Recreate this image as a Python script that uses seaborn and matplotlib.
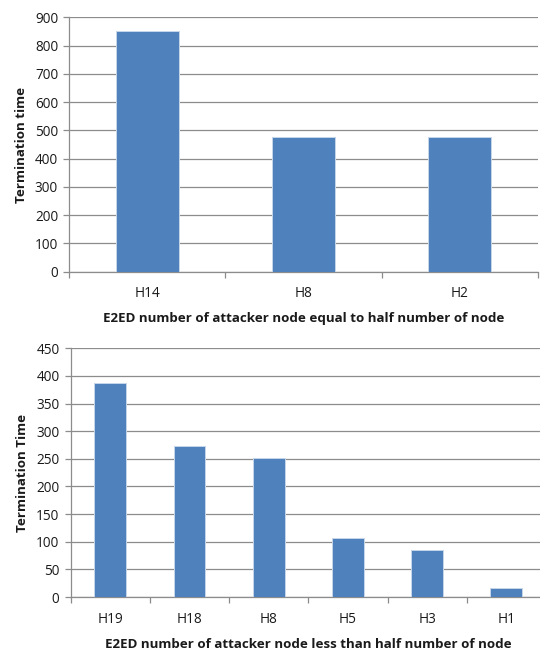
import matplotlib
matplotlib.use("Agg")
import matplotlib.pyplot as plt
import seaborn as sns
import pandas as pd
import numpy as np
from matplotlib.ticker import FixedLocator

# Termination time per attacker node
equal_nodes = ["H14", "H8", "H2"]
equal_times = [850, 478, 478]

less_nodes = ["H19", "H18", "H8", "H5", "H3", "H1"]
less_times = [387, 274, 251, 106, 85, 17]

sns.set_style("white")
plt.rcParams["font.family"] = ["Open Sans", "DejaVu Sans"]

BAR = "#4F81BD"
GRID = "#8c8c8c"
TXT = "#1a1a1a"

fig = plt.figure(figsize=(5.4, 6.51), dpi=100)
ax1 = fig.add_axes([0.1283, 0.5826, 0.8673, 0.3908])
ax2 = fig.add_axes([0.1309, 0.0829, 0.8801, 0.3821])


def style(ax, cats, vals, ymax, ystep, xlabel, ylabel):
    df = pd.DataFrame({"node": cats, "time": vals})
    sns.barplot(data=df, x="node", y="time", ax=ax, color=BAR, width=0.4,
                saturation=1, edgecolor="#c5d5ea", linewidth=0.7, zorder=3)
    n = len(cats)
    ax.set_xlim(-0.5, n - 0.5)
    ax.set_ylim(0, ymax)
    ax.set_yticks(np.arange(0, ymax + 1, ystep))
    ax.yaxis.grid(True, color=GRID, linewidth=0.9, zorder=0)
    ax.set_axisbelow(True)
    for s in ["top", "right"]:
        ax.spines[s].set_visible(False)
    for s in ["left", "bottom"]:
        ax.spines[s].set_color(GRID)
        ax.spines[s].set_linewidth(0.9)
    ax.xaxis.set_minor_locator(FixedLocator(np.arange(-0.5, n, 1.0)))
    ax.tick_params(axis="x", which="major", length=0, pad=10.5,
                   labelsize=9.8, labelcolor=TXT)
    ax.tick_params(axis="x", which="minor", length=4, width=0.9,
                   color=GRID, direction="out", bottom=True)
    ax.tick_params(axis="y", which="major", length=4, width=0.9,
                   color=GRID, direction="out", left=True, pad=4,
                   labelsize=9.8, labelcolor=TXT)
    ax.set_xlabel(xlabel, fontsize=9.6, fontweight="bold", color=TXT,
                  labelpad=8)
    ax.set_ylabel(ylabel, fontsize=9.6, fontweight="bold", color=TXT,
                  labelpad=5)


style(ax1, equal_nodes, equal_times, 900, 100,
      "E2ED number of attacker node equal to half number of node",
      "Termination time")
style(ax2, less_nodes, less_times, 450, 50,
      "E2ED number of attacker node less than half number of node",
      "Termination Time")

fig.savefig("out.png", dpi=100)
